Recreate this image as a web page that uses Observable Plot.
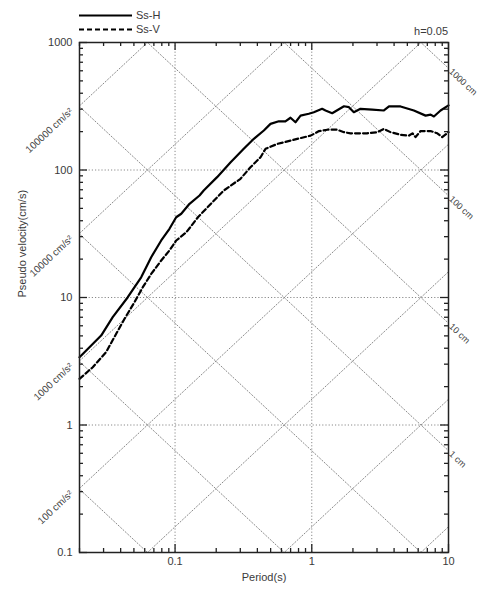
<!DOCTYPE html>
<html><head><meta charset="utf-8">
<script src="https://cdn.jsdelivr.net/npm/d3@7"></script>
<script src="https://cdn.jsdelivr.net/npm/@observablehq/plot@0.6"></script>
<style>
body{margin:0;background:#fff;font-family:"Liberation Sans",Arial,sans-serif;}
#wrap{width:479px;}
#legend{display:block;}
</style></head><body>
<div id="wrap"><div id="legend"></div><div id="chart"></div></div>
<script>
// ---- data ----
const seriesNames = ["Ss-H", "Ss-V"];
const dampingLabel = "h=0.05";
const periodsH = [0.02,0.0288,0.035,0.0451,0.0565,0.0669,0.0792,0.091,0.1019,0.111,0.1276,0.151,0.162,0.203,0.255,0.318,0.377,0.446,0.499,0.574,0.641,0.699,0.76,0.828,0.951,1.035,1.19,1.26,1.41,1.72,1.87,2.03,2.27,2.77,3.37,3.67,4.46,5.58,6.8,7.4,7.82,8.75,10];
const velH =     [3.40,5.03,7.01,10.05,14.4,20.7,28.0,34.6,42.6,45.4,54.3,63.1,69.0,87.9,115,146.6,175.6,204,230,241,241,257,237,267,276,284,302,293,279,316,311,284,302,298,293,315,315,293,267,272,263,293,321];
const periodsV = [0.02,0.025,0.0313,0.0371,0.0427,0.0505,0.0581,0.0669,0.0792,0.091,0.102,0.121,0.147,0.227,0.301,0.356,0.422,0.459,0.558,0.699,0.828,0.98,1.13,1.30,1.53,1.72,1.92,2.54,3.01,3.37,3.77,4.46,5.13,5.45,5.74,6.25,7.4,8.28,9.0,10];
const velV =     [2.30,2.84,3.73,5.19,6.81,9.19,12.05,15.3,19.5,23.4,28.0,32.5,42.6,69.0,85.3,105,126,146.6,160,170,178,186,202,207,207,198,194,194,198,210,198,189,186,194,181,202,202,194,181,198];
const xTicks = [0.02, 0.1, 1, 10];
const yTicks = [0.1, 1, 10, 100, 1000];
const accelValues = [0.1, 1, 10, 100, 1000, 10000, 100000];   // cm/s^2
const accelLabeled = [100, 1000, 10000, 100000];
const dispValues = [0.001, 0.01, 0.1, 1, 10, 100, 1000];       // cm
const dispLabeled = [1, 10, 100, 1000];
const xLabel = "Period(s)";
const yLabel = "Pseudo velocity(cm/s)";

// ---- layout ----
const LEGH = 38;
const ML = 79, MR = 31, MT = 4, MB = 39, SVGH = 591 - LEGH, WIDTH = 479;
const FW = WIDTH - ML - MR, FH = SVGH - MT - MB;
const xDomain = [0.02, 10], yDomain = [0.1, 1000];
const TWO_PI = 2 * Math.PI;
const ink = "#222", txt = "#3a3a3a", grid = "#8a8a8a";
const ang = Math.atan((FH / 4) / (FW / Math.log10(xDomain[1] / xDomain[0]))) * 180 / Math.PI;

// legend (above the svg)
const leg = d3.select("#legend").append("svg").attr("width", WIDTH).attr("height", LEGH)
  .style("display", "block").style("font-family", '"Liberation Sans",Arial,sans-serif').style("font-size", "11px");
[["none", 15.5], ["5,3", 29.5]].forEach(([dash, y], i) => {
  leg.append("line").attr("x1", 79).attr("x2", 132).attr("y1", y).attr("y2", y)
    .attr("stroke", "#000").attr("stroke-width", 2.2).attr("stroke-dasharray", dash);
  leg.append("text").attr("x", 136).attr("y", y).attr("dy", "0.35em").attr("fill", txt).text(seriesNames[i]);
});
leg.append("text").attr("x", ML + FW).attr("y", 31).attr("dy", "0.35em").attr("text-anchor", "end")
  .attr("fill", txt).text(dampingLabel);

// derived tables
const rows = [
  ...periodsH.map((T, i) => ({T, v: velH[i], s: seriesNames[0]})),
  ...periodsV.map((T, i) => ({T, v: velV[i], s: seriesNames[1]}))
];
const accelLines = accelValues.flatMap(a => xDomain.map(T => ({a, T, v: a * T / TWO_PI})));
const dispLines = dispValues.flatMap(d => [0.002, 100].map(T => ({d, T, v: TWO_PI * d / T})));
const accelLab = accelLabeled.map(a => ({T: xDomain[0], v: a * xDomain[0] / TWO_PI, label: a + " cm/s\u00B2"}));
const dispLab = dispLabeled.map(d => ({T: xDomain[1], v: TWO_PI * d / xDomain[1], label: d + " cm"}));

const allX = d3.scaleLog().domain(xDomain).ticks();
const allY = d3.scaleLog().domain(yDomain).ticks();
const isMajor = v => Math.abs(Math.log10(v) - Math.round(Math.log10(v))) < 1e-9;
const majX = allX.filter(isMajor), minX = allX.filter(v => !isMajor(v));
const majY = allY.filter(isMajor), minY = allY.filter(v => !isMajor(v));
const MAJ = 8, MIN = 4;

const gridStyle = {stroke: grid, strokeWidth: 1, strokeDasharray: "1.2,2"};
const tickStyle = {stroke: ink, strokeWidth: 1.3};

const chart = Plot.plot({
  width: WIDTH, height: SVGH,
  marginLeft: ML, marginRight: MR, marginTop: MT, marginBottom: MB,
  style: {fontFamily: '"Liberation Sans",Arial,sans-serif', fontSize: "11px", color: txt, background: "#fff", overflow: "visible"},
  x: {type: "log", domain: xDomain},
  y: {type: "log", domain: yDomain},
  marks: [
    // diagonal grid
    Plot.line(accelLines, {x: "T", y: "v", z: "a", clip: "frame", ...gridStyle}),
    Plot.line(dispLines, {x: "T", y: "v", z: "d", clip: "frame", ...gridStyle}),
    // orthogonal grid
    Plot.ruleX(majX.filter(v => v > xDomain[0] && v < xDomain[1]), {x: d => d, ...gridStyle}),
    Plot.ruleY(majY.filter(v => v > yDomain[0] && v < yDomain[1]), {y: d => d, ...gridStyle}),
    // inward ticks
    Plot.ruleX(majX, {x: d => d, insetTop: FH - MAJ, ...tickStyle}),
    Plot.ruleX(minX, {x: d => d, insetTop: FH - MIN, ...tickStyle}),
    Plot.ruleX(majX, {x: d => d, insetBottom: FH - MAJ, ...tickStyle}),
    Plot.ruleX(minX, {x: d => d, insetBottom: FH - MIN, ...tickStyle}),
    Plot.ruleY(majY, {y: d => d, insetRight: FW - MAJ, ...tickStyle}),
    Plot.ruleY(minY, {y: d => d, insetRight: FW - MIN, ...tickStyle}),
    Plot.ruleY(majY, {y: d => d, insetLeft: FW - MAJ, ...tickStyle}),
    Plot.ruleY(minY, {y: d => d, insetLeft: FW - MIN, ...tickStyle}),
    // data
    Plot.line(rows.filter(r => r.s === seriesNames[0]), {x: "T", y: "v", stroke: "#000", strokeWidth: 2.2, strokeLinejoin: "round"}),
    Plot.line(rows.filter(r => r.s === seriesNames[1]), {x: "T", y: "v", stroke: "#000", strokeWidth: 2.2, strokeDasharray: "5,3"}),
    Plot.frame({stroke: ink, strokeWidth: 1.5}),
    // axes
    Plot.axisX(xTicks, {tickSize: 0, tickPadding: 5, tickFormat: d => String(d), label: null, fill: txt, fontSize: 11}),
    Plot.axisY(yTicks, {tickSize: 0, tickPadding: 7, tickFormat: d => String(d), label: null, fill: txt, fontSize: 11}),
    Plot.text([xLabel], {frameAnchor: "bottom", dy: 28, text: d => d, fill: txt, fontSize: 11}),
    Plot.text([yLabel], {frameAnchor: "left", dx: -57, rotate: -90, text: d => d, fill: txt, fontSize: 11}),
    // diagonal labels
    Plot.text(accelLab, {x: "T", y: "v", text: "label", rotate: -ang, textAnchor: "end", dx: -8, dy: 4, fill: "#444", fontSize: 10}),
    Plot.text(dispLab, {x: "T", y: "v", text: "label", rotate: ang, textAnchor: "start", dx: 2, dy: 2, fill: "#444", fontSize: 9})
  ]
});
document.getElementById("chart").append(chart);
</script>
</body></html>
